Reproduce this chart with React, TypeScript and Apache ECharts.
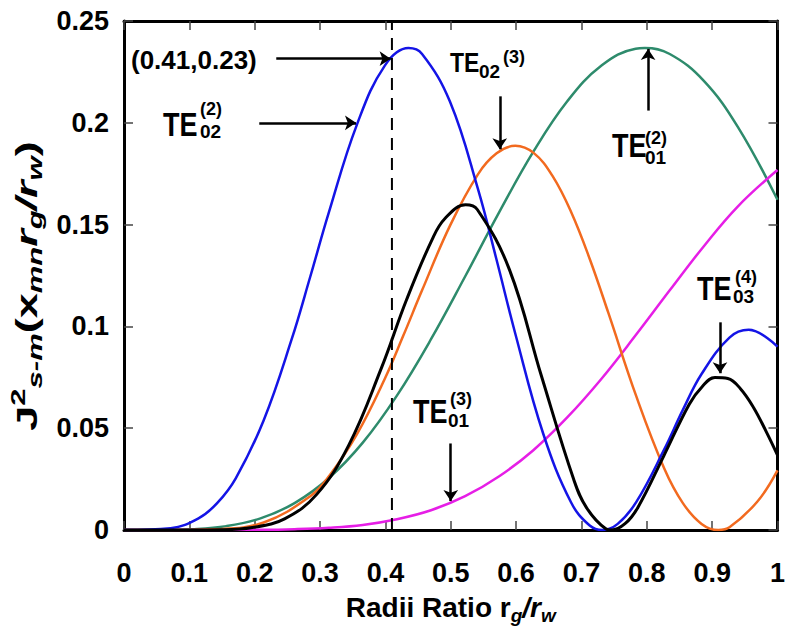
import React, { useEffect, useRef } from 'react';
import * as echarts from 'echarts';

// ---- data ----
// TE02^(2) (blue)
const blueR = [0, 0.0713, 0.114, 0.1425, 0.171, 0.2138, 0.2566, 0.2851, 0.3136, 0.3563, 0.3991, 0.4353, 0.4561, 0.4989, 0.5416, 0.5702, 0.5987, 0.6414, 0.6842, 0.7127, 0.732, 0.7555, 0.784, 0.8267, 0.8552, 0.8838, 0.9265, 0.9559, 1];
const blueV = [0, 0.0009, 0.0057, 0.0132, 0.0254, 0.0539, 0.0937, 0.1245, 0.1561, 0.199, 0.2281, 0.2367, 0.2338, 0.2103, 0.1675, 0.1326, 0.0965, 0.0474, 0.0135, 0.0022, 0, 0.003, 0.0138, 0.0396, 0.059, 0.0766, 0.0945, 0.0983, 0.0901];
// TE01^(2) (green)
const greenR = [0, 0.0522, 0.1044, 0.1566, 0.2088, 0.261, 0.3132, 0.3654, 0.4176, 0.4698, 0.522, 0.5742, 0.6264, 0.6786, 0.7307, 0.7829, 0.797, 0.8351, 0.8873, 0.9395, 1];
const greenV = [0, 0.00003, 0.0004, 0.0019, 0.0057, 0.0132, 0.0254, 0.0429, 0.066, 0.0937, 0.1245, 0.1561, 0.1858, 0.2107, 0.2281, 0.2364, 0.2367, 0.2338, 0.2206, 0.1979, 0.1622];
// TE01^(3) (magenta)
const magentaR = [0, 0.1044, 0.2088, 0.261, 0.3132, 0.3654, 0.4176, 0.4698, 0.522, 0.5742, 0.6264, 0.6786, 0.7307, 0.7829, 0.8351, 0.8873, 0.9395, 1];
const magentaV = [0, 0.000002, 0.0001, 0.0004, 0.0011, 0.0025, 0.0053, 0.0097, 0.0166, 0.0264, 0.0392, 0.0554, 0.0743, 0.0956, 0.1177, 0.1394, 0.159, 0.1768];
// TE02^(3) (orange)
const orangeR = [0, 0.0713, 0.1425, 0.2138, 0.2851, 0.3136, 0.3563, 0.3991, 0.4276, 0.4561, 0.4989, 0.5416, 0.5702, 0.5988, 0.6272, 0.6557, 0.6842, 0.7127, 0.7412, 0.784, 0.8267, 0.8552, 0.8838, 0.9094, 0.9265, 0.9693, 1];
const orangeV = [0, 0.00001, 0.0004, 0.0037, 0.0166, 0.0264, 0.047, 0.0743, 0.0956, 0.1177, 0.1495, 0.1747, 0.185, 0.1887, 0.1851, 0.1739, 0.1562, 0.1331, 0.1066, 0.0656, 0.0302, 0.0132, 0.003, 0, 0.0013, 0.014, 0.0293];
// TE03^(4) (black)
const blackR = [0, 0.0983, 0.1474, 0.1966, 0.2457, 0.2949, 0.344, 0.3932, 0.4325, 0.4718, 0.4915, 0.5227, 0.5406, 0.5898, 0.6389, 0.6881, 0.7077, 0.7372, 0.7459, 0.7667, 0.7864, 0.8257, 0.865, 0.8847, 0.9043, 0.924, 0.9436, 0.9633, 0.9829, 1];
const blackV = [0, 0.00001, 0.0001, 0.0012, 0.0055, 0.0175, 0.0417, 0.079, 0.1132, 0.1429, 0.1531, 0.1597, 0.1574, 0.1279, 0.0755, 0.0249, 0.011, 0.0006, 0, 0.0031, 0.0111, 0.0362, 0.0618, 0.0704, 0.0749, 0.0744, 0.0693, 0.0602, 0.0482, 0.0368];

// marked point and annotation arrows (data coordinates: [from, to])
const markedX = 0.41;
const markedY = 0.23;
const arrows = [
  [[0.233, 0.2315], [0.408, 0.2315]],
  [[0.207, 0.2], [0.355, 0.2]],
  [[0.575, 0.213], [0.575, 0.187]],
  [[0.802, 0.206], [0.802, 0.2363]],
  [[0.912, 0.102], [0.912, 0.077]],
  [[0.5, 0.0425], [0.5, 0.0142]],
];

// mode labels
const modeLabels = [
  { sub: '02', sup: '(2)' },
  { sub: '02', sup: '(3)' },
  { sub: '01', sup: '(2)' },
  { sub: '03', sup: '(4)' },
  { sub: '01', sup: '(3)' },
];

// layout of the labels (pixels)
const labelLayout = [
  { te: [163, 124.5], size: 27, subPos: [200, 131.5], supPos: [200, 109] },
  { te: [450, 62], size: 23, subPos: [479, 71.5], supPos: [503, 57] },
  { te: [612, 145.5], size: 27, subPos: [645, 157.5], supPos: [645, 138] },
  { te: [697, 289], size: 27, subPos: [733, 296.5], supPos: [735, 276.5] },
  { te: [413, 411.5], size: 27, subPos: [448, 420], supPos: [450, 399] },
];

const FONT = '"Liberation Sans", Arial, Helvetica, sans-serif';

const zip = (r: number[], v: number[]) => r.map((x, i) => [x, v[i]]);

export default function App() {
  const ref = useRef<HTMLDivElement>(null);
  useEffect(() => {
    if (!ref.current) return;
    const chart = echarts.init(ref.current, undefined, { renderer: 'svg' });

    const lineSeries = (name: string, r: number[], v: number[], color: string, width: number) => ({
      name,
      type: 'line',
      data: zip(r, v),
      smooth: 0.4,
      symbol: 'none',
      lineStyle: { color, width },
      z: 3,
    });

    const graphics: any[] = [];
    modeLabels.forEach((m, i) => {
      const l = labelLayout[i];
      graphics.push({
        type: 'text', x: l.te[0], y: l.te[1], scaleY: 1.2,
        style: { text: 'TE', fontSize: l.size, fontWeight: 'bold', fontFamily: FONT, fill: '#000', align: 'left', verticalAlign: 'middle' },
      });
      graphics.push({
        type: 'text', x: l.subPos[0], y: l.subPos[1],
        style: { text: m.sub, fontSize: 19, fontWeight: 'bold', fontFamily: FONT, fill: '#000', align: 'left', verticalAlign: 'middle' },
      });
      graphics.push({
        type: 'text', x: l.supPos[0], y: l.supPos[1],
        style: { text: m.sup, fontSize: 18, fontWeight: 'bold', fontFamily: FONT, fill: '#000', align: 'left', verticalAlign: 'middle' },
      });
    });
    graphics.push({
      type: 'text', x: 131, y: 60,
      style: { text: `(${markedX},${markedY})`, fontSize: 26, fontWeight: 'bold', fontFamily: FONT, fill: '#000', align: 'left', verticalAlign: 'middle' },
    });

    const richBase = {
      a: { fontSize: 28, fontWeight: 'bold', fontFamily: FONT, color: '#000', lineHeight: 35 },
      ai: { fontSize: 28, fontWeight: 'bold', fontStyle: 'italic', fontFamily: FONT, color: '#000', lineHeight: 35 },
      s: { fontSize: 19, fontWeight: 'bold', fontStyle: 'italic', fontFamily: FONT, color: '#000', lineHeight: 19, verticalAlign: 'bottom' },
      p: { fontSize: 19, fontWeight: 'bold', fontFamily: FONT, color: '#000', lineHeight: 19, verticalAlign: 'top' },
    };
    const richY = {
      a: { fontSize: 29, fontWeight: 'bold', fontFamily: FONT, fill: '#000', lineHeight: 37 },
      ai: { fontSize: 29, fontWeight: 'bold', fontStyle: 'italic', fontFamily: FONT, fill: '#000', lineHeight: 37 },
      s: { fontSize: 20, fontWeight: 'bold', fontStyle: 'italic', fontFamily: FONT, fill: '#000', lineHeight: 20, verticalAlign: 'bottom' },
      p: { fontSize: 20, fontWeight: 'bold', fontFamily: FONT, fill: '#000', lineHeight: 20, verticalAlign: 'top' },
    };
    graphics.push({
      type: 'text', x: 27, y: 286, rotation: Math.PI / 2, scaleX: 1.55,
      style: {
        text: '{a|J}{p|2}{s|s-m}{a|(x}{s|mn}{ai|r}{s|g}{ai|/r}{s|w}{a|)}',
        rich: richY, fill: '#000', align: 'center', verticalAlign: 'middle',
        fontSize: 29, fontWeight: 'bold', fontFamily: FONT,
      },
    });

    const tickLabel = { fontSize: 27, fontWeight: 'bold', fontFamily: FONT, color: '#000' };

    chart.setOption({
      animation: false,
      grid: { left: 124, right: 7, top: 21, bottom: 96, containLabel: false },
      xAxis: [
        {
          type: 'value', min: 0, max: 1, interval: 0.1,
          name: '{a|Radii Ratio r}{s|g}{ai|/r}{s|w}',
          nameLocation: 'middle', nameGap: 60,
          nameTextStyle: { fontSize: 28, fontWeight: 'bold', fontFamily: FONT, color: '#000', rich: richBase },
          axisLine: { show: true, onZero: false, lineStyle: { color: '#000', width: 3 } },
          axisTick: { show: true, inside: true, length: 9, lineStyle: { color: '#444', width: 1.5 } },
          axisLabel: { ...tickLabel, margin: 29 },
          splitLine: { show: false },
        },
        {
          type: 'value', min: 0, max: 1, interval: 0.1, position: 'top',
          axisLine: { show: true, onZero: false, lineStyle: { color: '#000', width: 3 } },
          axisTick: { show: true, inside: true, length: 9, lineStyle: { color: '#444', width: 1.5 } },
          axisLabel: { show: false },
          splitLine: { show: false },
        },
      ],
      yAxis: [
        {
          type: 'value', min: 0, max: 0.25, interval: 0.05,
          axisLine: { show: true, onZero: false, lineStyle: { color: '#000', width: 3 } },
          axisTick: { show: true, inside: true, length: 9, lineStyle: { color: '#444', width: 1.5 } },
          axisLabel: { ...tickLabel, margin: 15, padding: [6, 0, 0, 0] },
          splitLine: { show: false },
        },
        {
          type: 'value', min: 0, max: 0.25, interval: 0.05, position: 'right',
          axisLine: { show: true, onZero: false, lineStyle: { color: '#000', width: 3 } },
          axisTick: { show: true, inside: true, length: 9, lineStyle: { color: '#444', width: 1.5 } },
          axisLabel: { show: false },
          splitLine: { show: false },
        },
      ],
      series: [
        lineSeries('TE01(2)', greenR, greenV, '#2e8b6c', 2.5),
        lineSeries('TE01(3)', magentaR, magentaV, '#e61ee6', 2.5),
        lineSeries('TE02(3)', orangeR, orangeV, '#f26a1f', 2.5),
        lineSeries('TE02(2)', blueR, blueV, '#1414e6', 2.5),
        lineSeries('TE03(4)', blackR, blackV, '#000000', 3),
        {
          name: 'marker',
          type: 'line',
          data: [[markedX, 0], [markedX, 0.25]],
          symbol: 'none',
          lineStyle: { color: '#000', width: 2, type: [12, 8] },
          z: 4,
          markLine: {
            silent: true,
            symbol: ['none', 'arrow'],
            symbolSize: 11,
            label: { show: false },
            lineStyle: { color: '#000', width: 2.5, type: 'solid' },
            data: arrows.map(([a, b]) => [{ coord: a }, { coord: b }]),
          },
        },
      ],
      graphic: graphics,
    });
    return () => chart.dispose();
  }, []);
  return <div ref={ref} style={{ position: 'absolute', left: 0, top: 0, width: 788, height: 630, background: '#fff' }} />;
}
